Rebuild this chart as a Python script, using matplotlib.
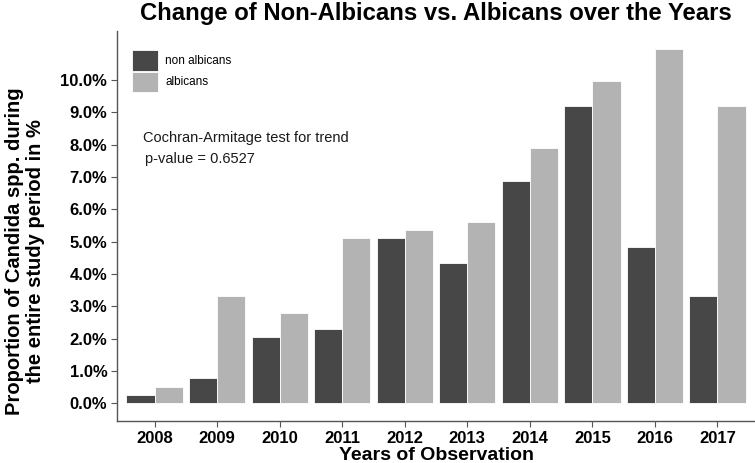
import numpy as np
import matplotlib
matplotlib.use('Agg')
import matplotlib.pyplot as plt

plt.rcParams['font.family'] = ['Liberation Sans', 'DejaVu Sans']

years = ['2008', '2009', '2010', '2011', '2012', '2013', '2014', '2015', '2016', '2017']
non_albicans = [0.26, 0.77, 2.04, 2.30, 5.10, 4.34, 6.88, 9.18, 4.84, 3.31]
albicans = [0.50, 3.31, 2.80, 5.10, 5.35, 5.61, 7.91, 9.96, 10.96, 9.18]

DARK = '#474747'
LIGHT = '#b3b3b3'

fig = plt.figure(figsize=(7.55, 4.63), dpi=100)
ax = fig.add_axes([0.155, 0.0907, 0.845, 0.842])

x = np.arange(len(years))
w = 0.45
ax.bar(x - w / 2, non_albicans, width=w, color=DARK, edgecolor='white', linewidth=0.6, label='non albicans')
ax.bar(x + w / 2, albicans, width=w, color=LIGHT, edgecolor='white', linewidth=0.6, label='albicans')

ax.set_xlim(-0.6, len(years) - 1 + 0.6)
ax.set_ylim(-0.548, 11.508)
ax.set_xticks(x)
ax.set_xticklabels(years, fontsize=12, fontweight='bold')
ax.set_yticks(np.arange(0, 11, 1))
ax.set_yticklabels(['%.1f%%' % v for v in range(0, 11)], fontsize=12, fontweight='bold')
ax.tick_params(axis='both', length=4, width=0.8, color='#555555', pad=3)

for s in ['top', 'right']:
    ax.spines[s].set_visible(False)
for s in ['left', 'bottom']:
    ax.spines[s].set_color('#555555')
    ax.spines[s].set_linewidth(1.0)

ax.set_xlabel('Years of Observation', fontsize=14, fontweight='bold', labelpad=1)
ax.set_ylabel('Proportion of Candida spp. during\nthe entire study period in %',
              fontsize=14.5, fontweight='bold', linespacing=1.1)
ax.yaxis.set_label_coords(-0.113, 0.436)
ax.set_title('Change of Non-Albicans vs. Albicans over the Years',
             fontsize=17.2, fontweight='bold', pad=8)

leg = ax.legend(loc='upper left', bbox_to_anchor=(0.0, 0.99), frameon=False,
                fontsize=8.5, handlelength=2.2, handleheight=2.3,
                labelspacing=0.05, handletextpad=0.6, borderaxespad=0.9)

ax.text(0.04, 0.726, 'Cochran-Armitage test for trend', transform=ax.transAxes,
        fontsize=10.5, color='#1a1a1a', va='center')
ax.text(0.044, 0.672, 'p-value = 0.6527', transform=ax.transAxes,
        fontsize=10.5, color='#1a1a1a', va='center')

fig.savefig('out.png', dpi=100)
